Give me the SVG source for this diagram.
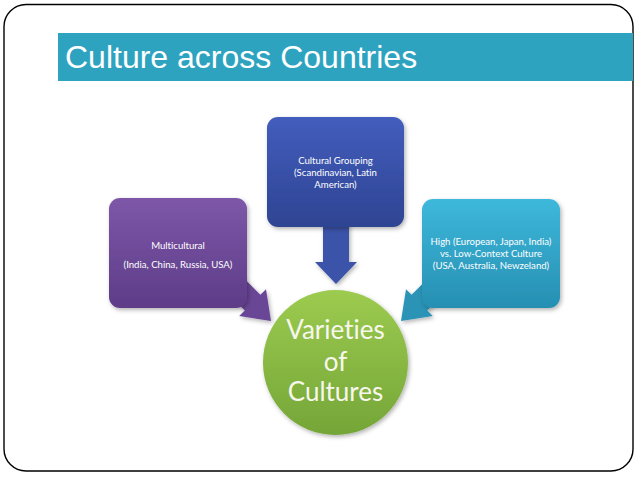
<svg xmlns="http://www.w3.org/2000/svg" width="638" height="479" viewBox="0 0 638 479">
  <defs>
    <linearGradient id="gPurple" x1="0" y1="0" x2="0" y2="1">
      <stop offset="0" stop-color="#7D57A8"/>
      <stop offset="1" stop-color="#5E3C88"/>
    </linearGradient>
    <linearGradient id="gBlue" x1="0" y1="0" x2="0" y2="1">
      <stop offset="0" stop-color="#435DBD"/>
      <stop offset="1" stop-color="#2E4492"/>
    </linearGradient>
    <linearGradient id="gCyan" x1="0" y1="0" x2="0" y2="1">
      <stop offset="0" stop-color="#3DB8DB"/>
      <stop offset="1" stop-color="#268FB2"/>
    </linearGradient>
    <linearGradient id="gGreen" x1="0" y1="0" x2="0" y2="1">
      <stop offset="0" stop-color="#9DCB50"/>
      <stop offset="1" stop-color="#74A537"/>
    </linearGradient>
    <filter id="sh" x="-20%" y="-20%" width="140%" height="140%">
      <feDropShadow dx="1.5" dy="2" stdDeviation="2" flood-color="#000" flood-opacity="0.3"/>
    </filter>
  </defs>
  <style>
    text { font-variant-ligatures: none; }
    .box { font-family: Lato, "Open Sans", sans-serif; font-size: 9.6px; fill: #ffffff; text-anchor: middle; }
    .big { font-family: Lato, "Open Sans", sans-serif; font-size: 26px; fill: #F7F7EE; text-anchor: middle; }
  </style>
  <rect width="638" height="479" fill="#ffffff"/>
  <rect x="4" y="4.5" width="629" height="466.5" rx="22" ry="22" fill="none" stroke="#000" stroke-width="1.4"/>

  <g id="title">
    <rect x="58" y="33" width="575" height="48" fill="#2EA3C0"/>
    <text x="65" y="68" font-family="'Liberation Sans', Arial, sans-serif" font-size="32" fill="#ffffff">Culture across Countries</text>
  </g>

  <g id="connectors">
    <polygon fill="#6A4796" filter="url(#sh)" points="232.1,266.5 260.4,294.8 266,289.2 271,321 239.2,316 244.8,310.4 216.5,282.1"/>
    <polygon fill="#2B93B6" filter="url(#sh)" points="439.9,266.5 411.6,294.8 406,289.2 401,321 432.8,316 427.2,310.4 455.5,282.1"/>
    <polygon fill="#3A52A8" filter="url(#sh)" points="323,215 349,215 349,262 357,262 336,284 315,262 323,262"/>
  </g>

  <g id="multicultural">
    <rect x="109" y="198" width="138" height="110" rx="11" fill="url(#gPurple)" filter="url(#sh)"/>
    <text class="box" x="178" y="249">Multicultural</text>
    <text class="box" x="178" y="268">(India, China, Russia, USA)</text>
  </g>

  <g id="grouping">
    <rect x="267" y="117" width="137" height="110" rx="11" fill="url(#gBlue)" filter="url(#sh)"/>
    <text class="box" x="335.5" y="164">Cultural Grouping</text>
    <text class="box" x="335.5" y="176">(Scandinavian, Latin</text>
    <text class="box" x="335.5" y="188">American)</text>
  </g>

  <g id="context">
    <rect x="422" y="199" width="138" height="109" rx="11" fill="url(#gCyan)" filter="url(#sh)"/>
    <text class="box" x="491" y="245">High (European, Japan, India)</text>
    <text class="box" x="491" y="257">vs. Low-Context Culture</text>
    <text class="box" x="491" y="269">(USA, Australia, Newzeland)</text>
  </g>

  <g id="varieties">
    <circle cx="335.5" cy="362.5" r="72.5" fill="url(#gGreen)" filter="url(#sh)"/>
    <text class="big" x="335.5" y="339">Varieties</text>
    <text class="big" x="335.5" y="371">of</text>
    <text class="big" x="335.5" y="401">Cultures</text>
  </g>
</svg>
